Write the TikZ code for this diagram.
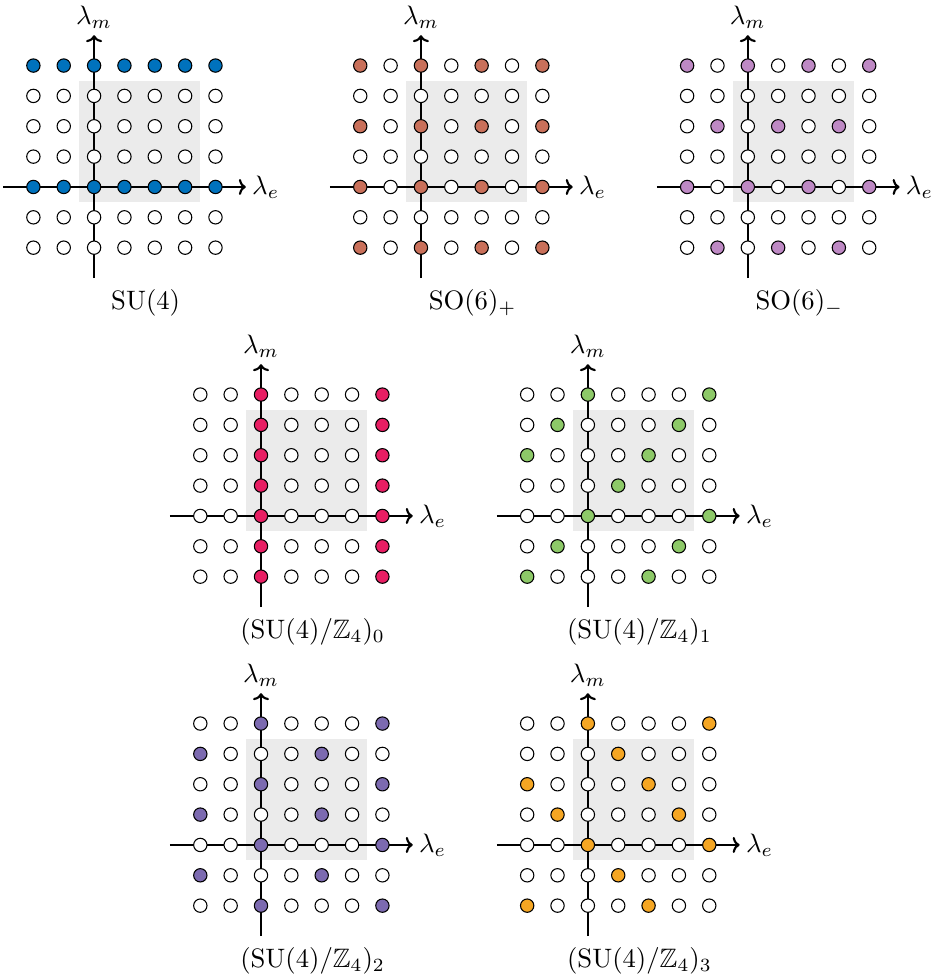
\documentclass[tikz,border=0pt]{standalone}
\usepackage{amsmath,amssymb}
\usepackage{xcolor}
\usepackage{tikz}
\usetikzlibrary{arrows.meta}

\definecolor{suBlue}{RGB}{0,114,189}
\definecolor{soPlus}{RGB}{201,112,90}
\definecolor{soMinus}{RGB}{190,137,196}
\definecolor{zZero}{RGB}{232,30,99}
\definecolor{zOne}{RGB}{141,201,104}
\definecolor{zTwo}{RGB}{124,106,176}
\definecolor{zThree}{RGB}{245,166,35}
\definecolor{cellGray}{RGB}{235,235,235}

\tikzset{
  axis/.style={thick,-{To[length=2.6pt,width=6pt]}},
  site/.style={draw=black,thin},
  cell/.style={fill=cellGray},
}

% one charge lattice: #1 name, #2 origin, #3 colour, #4 condition on \e,\m, #5 caption
\newcommand{\chargelattice}[5]{%
  \begin{scope}[shift={#2}]
    \fill[cell] (-0.5,-0.5) rectangle (3.5,3.5);
    \coordinate (#1-s) at (0,-3);
    \coordinate (#1-n) at (0,5);
    \coordinate (#1-w) at (-3,0);
    \coordinate (#1-e) at (5,0);
    \draw[axis] (#1-s) -- (#1-n) node[above,inner sep=2pt] (#1-lm) {$\lambda_m$};
    \draw[axis] (#1-w) -- (#1-e) node[right,inner sep=2pt] (#1-le) {$\lambda_e$};
    \foreach \e in {-2,...,4}
      \foreach \m in {-2,...,4} {
        \pgfmathtruncatemacro\on{#4}
        \ifnum\on=1 \def\dotcol{#3}\else\def\dotcol{white}\fi
        \draw[site,fill=\dotcol] (\e,\m) circle (0.22);
      }
    \node[anchor=base] (#1-name) at (1.7,-4.05) {#5};
  \end{scope}}

\begin{document}
\begin{tikzpicture}[x=0.4cm,y=0.4cm]
\path[use as bounding box] (0,0) rectangle (30.94,-32.29);

% top row
\chargelattice{su4}{(3.1,-6.16)}{suBlue}{Mod(\m,4)==0}{$\mathrm{SU}(4)$}
\chargelattice{so6p}{(13.87,-6.16)}{soPlus}{and(Mod(\e,2)==0,Mod(\m,2)==0)}{$\mathrm{SO}(6)_+$}
\chargelattice{so6m}{(24.64,-6.16)}{soMinus}{and(Mod(\m,2)==0,Mod(\e-\m/2,2)==0)}{$\mathrm{SO}(6)_-$}

% middle row
\chargelattice{zq0}{(8.6,-17.0)}{zZero}{Mod(\e,4)==0}{$(\mathrm{SU}(4)/\mathbb{Z}_4)_0$}
\chargelattice{zq1}{(19.37,-17.0)}{zOne}{Mod(\e-\m,4)==0}{$(\mathrm{SU}(4)/\mathbb{Z}_4)_1$}

% bottom row
\chargelattice{zq2}{(8.6,-27.84)}{zTwo}{Mod(\e-2*\m,4)==0}{$(\mathrm{SU}(4)/\mathbb{Z}_4)_2$}
\chargelattice{zq3}{(19.37,-27.84)}{zThree}{Mod(\e-3*\m,4)==0}{$(\mathrm{SU}(4)/\mathbb{Z}_4)_3$}
\end{tikzpicture}
\end{document}
